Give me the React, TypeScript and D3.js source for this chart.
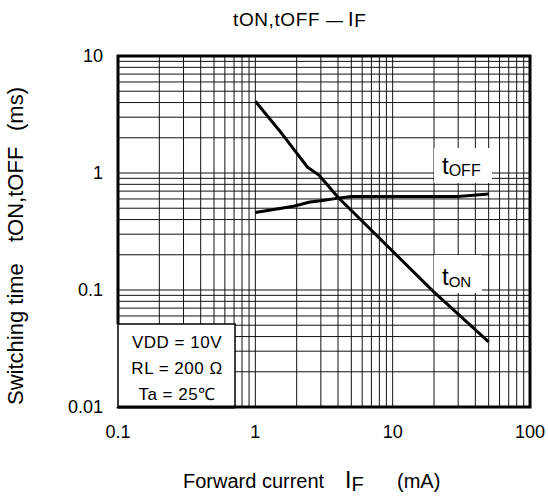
import * as d3 from "d3";

// values
const ifOn = [1, 1.5, 2.4, 2.9, 4, 20, 50];
const tOn = [4.1, 2.3, 1.12, 0.96, 0.62, 0.096, 0.036];
const ifOff = [1, 1.9, 2.5, 3, 4, 5, 30, 50];
const tOff = [0.46, 0.52, 0.565, 0.58, 0.61, 0.63, 0.63, 0.66];

const xTicks = [0.1, 1, 10, 100];
const xTickLabels = ["0.1", "1", "10", "100"];
const yTicks = [0.01, 0.1, 1, 10];
const yTickLabels = ["0.01", "0.1", "1", "10"];
const conditions = ["VDD = 10V", "RL = 200 Ω", "Ta = 25℃"];

const W = 548;
const H = 499;
const left = 118, right = 530, top = 56, bottom = 407;
const font = "'Liberation Sans', Arial, sans-serif";

const x = d3.scaleLog().domain([0.1, 100]).range([left, right]);
const y = d3.scaleLog().domain([0.01, 10]).range([bottom, top]);

// 1..9 in every decade
const gridVals = (from: number, to: number) => {
  const out: number[] = [];
  for (let d = from; d < to; d *= 10) for (let k = 1; k < 10; k++) out.push(d * k);
  out.push(to);
  return out;
};

type P = [number, number];
const line = d3
  .line<P>()
  .x((d) => x(d[0]))
  .y((d) => y(d[1]));

const onPts: P[] = ifOn.map((v, i) => [v, tOn[i]]);
const offPts: P[] = ifOff.map((v, i) => [v, tOff[i]]);

export default function App() {
  const xs = gridVals(0.1, 100);
  const ys = gridVals(0.01, 10);
  return (
    <svg
      width={W}
      height={H}
      style={{ position: "absolute", left: 0, top: 0, background: "#fff" }}
      fontFamily={font}
    >
      <rect width={W} height={H} fill="#fff" />
      {/* grid */}
      <g stroke="#111" strokeWidth={1}>
        {xs.map((v, i) => (
          <line key={"gx" + i} x1={x(v)} x2={x(v)} y1={top} y2={bottom} />
        ))}
        {ys.map((v, i) => (
          <line key={"gy" + i} x1={left} x2={right} y1={y(v)} y2={y(v)} />
        ))}
      </g>

      {/* curve labels with white backing */}
      <rect x={434} y={148} width={58} height={35} fill="#fff" />
      <rect x={434} y={255} width={48} height={38} fill="#fff" />

      <g fill="none" stroke="#000" strokeWidth={3} strokeLinejoin="round">
        <path d={line(onPts) ?? ""} />
        <path d={line(offPts) ?? ""} />
      </g>

      <text x={442} y={174} fontSize={24}>
        t<tspan fontSize={16} dy={2}>OFF</tspan>
      </text>
      <text x={442} y={285} fontSize={24}>
        t<tspan fontSize={15} dy={2}>ON</tspan>
      </text>

      {/* frame */}
      <rect
        x={left}
        y={top}
        width={right - left}
        height={bottom - top}
        fill="none"
        stroke="#000"
        strokeWidth={3}
      />

      {/* conditions box */}
      <rect x={114} y={324} width={121} height={bottom - 324} fill="#fff" />
      <rect x={left} y={324} width={235 - left} height={bottom - 324} fill="none" stroke="#000" strokeWidth={1.5} />
      <line x1={left} x2={235} y1={bottom} y2={bottom} stroke="#000" strokeWidth={3} />
      {conditions.map((c, i) => (
        <text key={c} x={177} y={348 + i * 26} fontSize={17} letterSpacing={0.5} textAnchor="middle">
          {c}
        </text>
      ))}

      {/* tick labels */}
      {xTicks.map((v, i) => (
        <text key={"xt" + i} x={x(v)} y={438} fontSize={18} textAnchor="middle">
          {xTickLabels[i]}
        </text>
      ))}
      {yTicks.map((v, i) => (
        <text
          key={"yt" + i}
          x={103}
          y={y(v)}
          fontSize={18}
          textAnchor="end"
          dominantBaseline="central"
        >
          {yTickLabels[i]}
        </text>
      ))}

      {/* title */}
      <text x={233} y={26} fontSize={19} letterSpacing={0.6}>
        tON,tOFF
        <tspan x={326} fontSize={17} letterSpacing={0}>—</tspan>
        <tspan x={348} fontSize={20}>I</tspan>
        <tspan dy={1}>F</tspan>
      </text>

      {/* x axis title */}
      <text y={488} fontSize={20}>
        <tspan x={183}>Forward current</tspan>
        <tspan x={345} fontSize={23}>I</tspan>
        <tspan dy={3}>F</tspan>
        <tspan x={397} dy={-3}>(mA)</tspan>
      </text>

      {/* y axis title */}
      <g fontSize={22}>
        <text transform="translate(23,405) rotate(-90)">Switching time</text>
        <text transform="translate(23,242) rotate(-90)">tON,tOFF</text>
        <text transform="translate(23,131) rotate(-90)">(ms)</text>
      </g>
    </svg>
  );
}
